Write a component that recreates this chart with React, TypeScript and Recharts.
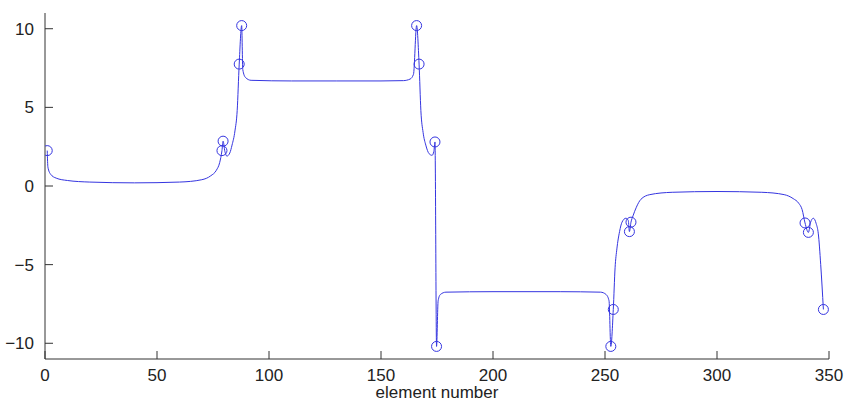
import { ComposedChart, Line, Scatter, XAxis, YAxis, Label } from "recharts"

// traced curve through the elements
const curveX = [
  1, 1.3, 2.5, 5, 10, 20, 40, 60, 70, 74, 76.5, 78, 79, 79.5, 80.3, 81.2, 82.5, 83.5, 84.8, 85.8,
  86.7, 87.8, 88.3, 89.5, 92, 110, 130, 150, 160, 163, 164.5, 165.9, 167, 167.8, 168.8, 170, 171.5,
  172.8, 173.6, 174.1, 174.8, 175.5, 176.5, 179, 200, 230, 248, 250.5, 251.8, 252.6, 253.7, 254.5,
  255.3, 256.5, 257.6, 259.3, 260.4, 260.9, 261.6, 262.5, 264, 266, 270, 280, 300, 320, 330, 334,
  336.5, 338, 339.3, 340.8, 341.8, 343, 344.3, 345.2, 346.3, 347.5,
]
const curveY = [
  2.25, 1.2, 0.75, 0.5, 0.35, 0.25, 0.2, 0.25, 0.4, 0.65, 1.0, 1.5, 2.25, 2.85, 2.2, 1.9, 2.1, 2.6,
  3.5, 4.8, 7.75, 10.2, 7.4, 6.9, 6.72, 6.68, 6.68, 6.68, 6.7, 6.8, 7.1, 10.2, 7.75, 4.8, 3.4, 2.6,
  2.05, 1.95, 2.2, 2.8, -10.2, -7.3, -6.9, -6.75, -6.72, -6.72, -6.75, -6.9, -7.3, -10.2, -7.85,
  -5.2, -4.0, -2.9, -2.3, -2.05, -2.2, -2.9, -2.3, -1.9, -1.35, -0.85, -0.55, -0.4, -0.35, -0.4,
  -0.55, -0.8, -1.1, -1.5, -2.35, -2.95, -2.3, -2.05, -2.4, -3.0, -5.0, -7.85,
]

// circled nodes
const nodeX = [1, 79, 79.5, 86.7, 87.8, 165.9, 167, 174.1, 174.8, 252.6, 253.7, 260.9, 261.6, 339.3, 340.8, 347.5]
const nodeY = [2.25, 2.25, 2.85, 7.75, 10.2, 10.2, 7.75, 2.8, -10.2, -10.2, -7.85, -2.9, -2.3, -2.35, -2.95, -7.85]

const xTicks = [0, 50, 100, 150, 200, 250, 300, 350]
const yTicks = [-10, -5, 0, 5, 10]

const curve = curveX.map((x, i) => ({ x, y: curveY[i] }))
const nodes = nodeX.map((x, i) => ({ x, y: nodeY[i] }))

const blue = "#3535e0"
const ink = "#222"
const fmt = (v: number) => (v < 0 ? "\u2212" + Math.abs(v) : String(v))

function YTick(props: any) {
  const { x, y, payload } = props
  const ax = x + 11
  return (
    <g>
      <line x1={ax} x2={ax + 8} y1={y} y2={y} stroke="#333" />
      <text x={x} y={y} dy={6} textAnchor="end" fontSize={17} fill={ink}>
        {fmt(payload.value)}
      </text>
    </g>
  )
}

function XTick(props: any) {
  const { x, y, payload } = props
  const ay = y - 9.5
  return (
    <g>
      <line x1={x} x2={x} y1={ay} y2={ay - 8} stroke="#333" />
      <text x={x} y={y} dy={12} textAnchor="middle" fontSize={17} fill={ink}>
        {fmt(payload.value)}
      </text>
    </g>
  )
}

function Ring(props: any) {
  const { cx, cy } = props
  return <circle cx={cx} cy={cy} r={5} fill="none" stroke={blue} strokeWidth={1} />
}

export default function App() {
  return (
    <div style={{ position: "absolute", left: 0, top: 0, fontFamily: "'Liberation Sans', Arial, sans-serif", background: "#fff" }}>
      <ComposedChart width={844} height={401} margin={{ top: 13, right: 15, left: 0, bottom: 0 }}>
        <XAxis
          type="number"
          dataKey="x"
          domain={[0, 350]}
          ticks={xTicks}
          height={42}
          tickSize={0}
          tickMargin={9.5}
          tickLine={false}
          stroke="#333"
          tick={<XTick />}
          allowDataOverflow
        >
          <Label value="element number" position="insideBottom" offset={3} fontSize={17} fill={ink} />
        </XAxis>
        <YAxis
          type="number"
          dataKey="y"
          domain={[-11, 11]}
          ticks={yTicks}
          width={45}
          tickSize={0}
          tickMargin={11}
          tickLine={false}
          stroke="#333"
          tick={<YTick />}
          allowDataOverflow
        />
        <Line
          data={curve}
          dataKey="y"
          type="monotone"
          stroke={blue}
          strokeWidth={1}
          dot={false}
          activeDot={false}
          isAnimationActive={false}
        />
        <Scatter data={nodes} dataKey="y" shape={<Ring />} isAnimationActive={false} />
      </ComposedChart>
    </div>
  )
}
